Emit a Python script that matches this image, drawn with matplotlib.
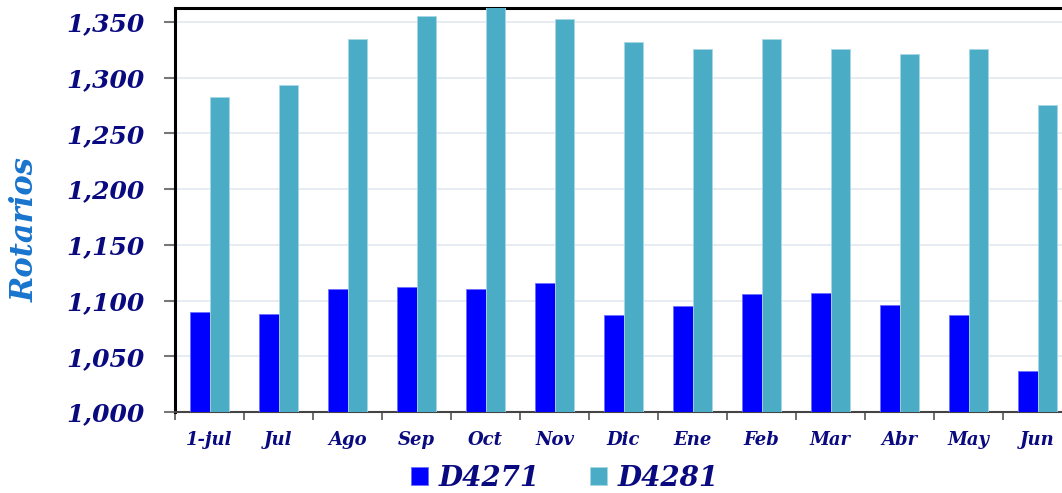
import numpy as np
import matplotlib
matplotlib.use("Agg")
import matplotlib.pyplot as plt
from matplotlib.ticker import FuncFormatter, MultipleLocator

months = ["1-jul", "Jul", "Ago", "Sep", "Oct", "Nov", "Dic", "Ene", "Feb", "Mar", "Abr", "May", "Jun"]
d4271 = [1090, 1088, 1110, 1112, 1110, 1116, 1087, 1095, 1106, 1107, 1096, 1087, 1037]
d4281 = [1283, 1293, 1335, 1355, 1365, 1353, 1332, 1326, 1335, 1326, 1321, 1326, 1275]

navy = "#0a0a80"
fnt = dict(family="DejaVu Serif", weight="bold", style="italic")

fig = plt.figure(figsize=(10.62, 4.93), dpi=100)
ax = fig.add_axes([175 / 1062, 81 / 493, 897 / 1062, 403.5 / 493])

x = np.arange(len(months))
w = 0.285
ax.bar(x - w / 2, d4271, w, color="#0000ff", edgecolor="#6f6fff", linewidth=0.6, label="D4271", zorder=3)
ax.bar(x + w / 2, d4281, w, color="#4bacc6", edgecolor="#a8d8e6", linewidth=0.6, label="D4281", zorder=3)

ax.set_xlim(-0.5, len(months) - 0.5)
ax.set_ylim(1000, 1362)
ax.yaxis.set_major_locator(MultipleLocator(50))
ax.yaxis.set_major_formatter(FuncFormatter(lambda v, p: f"{int(v):,}"))
ax.grid(axis="y", color="#e3e8f0", linewidth=1.2, zorder=0)

# boundaries as major ticks, labels on minor ticks at centres
ax.set_xticks(np.arange(-0.5, len(months), 1.0))
ax.set_xticklabels([])
ax.set_xticks(x, minor=True)
ax.set_xticklabels(months, minor=True, fontsize=13, color=navy, **fnt)
ax.tick_params(axis="x", which="major", length=6, width=1.2, color="#555555", direction="out")
ax.tick_params(axis="x", which="minor", length=0, pad=14)
ax.tick_params(axis="y", length=8, width=1.5, color="#777777", pad=14)
for lab in ax.get_yticklabels():
    lab.set_fontsize(18)
    lab.set_color(navy)
    lab.set_fontfamily("DejaVu Serif")
    lab.set_fontweight("bold")
    lab.set_fontstyle("italic")

for s in ["left", "top"]:
    ax.spines[s].set_linewidth(2.2)
    ax.spines[s].set_color("black")
ax.spines["right"].set_visible(False)
ax.spines["bottom"].set_linewidth(1.5)
ax.spines["bottom"].set_color("#444444")

fig.text(25 / 1062, 1 - 230 / 493, "Rotarios", rotation=90, ha="center", va="center",
         fontsize=22, color="#1874cd", **fnt)

fig.legend(loc="center", bbox_to_anchor=(565 / 1062, 1 - 478 / 493), ncol=2, frameon=False,
           handlelength=0.6, handleheight=0.6, handletextpad=0.4, columnspacing=1.8,
           prop=dict(size=20, **fnt), labelcolor=navy)

fig.savefig("out.png", dpi=100)
